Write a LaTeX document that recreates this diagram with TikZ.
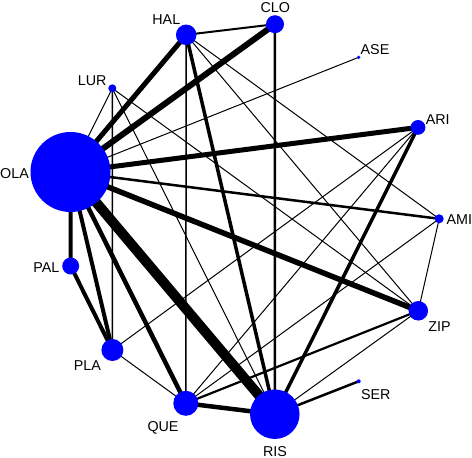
\documentclass[tikz,border=0pt]{standalone}
\usepackage{fontspec}
\setmainfont{Liberation Sans}
\pgfdeclarelayer{bg}
\pgfsetlayers{bg,main}
\definecolor{nodeblue}{RGB}{0,0,255}
\tikzset{
  vtx/.style={circle, fill=nodeblue, draw=none, inner sep=0pt, minimum size=#1},
  lbl/.style={anchor=base, inner sep=0pt, font=\fontsize{14.3}{16}\selectfont},
  ed/.style={line width=#1, draw=black}
}
\begin{document}
\begin{tikzpicture}[x=1pt,y=-1pt]
\useasboundingbox (0,0) rectangle (472,458);
% vertices
\node[vtx=80pt]  (OLA) at (70.5,172) {};
\node[vtx=20.5pt](HAL) at (186.2,34.8) {};
\node[vtx=18pt]  (CLO) at (275,24.2) {};
\node[vtx=3.6pt] (ASE) at (358.7,57.3) {};
\node[vtx=8pt]   (LUR) at (112.3,88.3) {};
\node[vtx=14.8pt](ARI) at (418,127.4) {};
\node[vtx=9pt]   (AMI) at (439.2,218.8) {};
\node[vtx=19.5pt](ZIP) at (418.3,310.8) {};
\node[vtx=4pt]   (SER) at (358.7,381.3) {};
\node[vtx=49.5pt](RIS) at (274.8,414.2) {};
\node[vtx=25pt]  (QUE) at (185.8,403.3) {};
\node[vtx=22pt]  (PLA) at (112.4,350) {};
\node[vtx=17pt]  (PAL) at (70.7,266) {};
% labels
\node[lbl] (tOLA) at (14.5,178.3) {OLA};
\node[lbl] (tHAL) at (166.3,24) {HAL};
\node[lbl] (tLUR) at (92.2,85.7) {LUR};
\node[lbl] (tCLO) at (275.3,12.3) {CLO};
\node[lbl] (tASE) at (375,54.3) {ASE};
\node[lbl] (tARI) at (437.8,124) {ARI};
\node[lbl] (tAMI) at (459.3,224) {AMI};
\node[lbl] (tZIP) at (439.5,331.3) {ZIP};
\node[lbl] (tSER) at (375.8,399.7) {SER};
\node[lbl] (tRIS) at (275,456.3) {RIS};
\node[lbl] (tQUE) at (163,431.3) {QUE};
\node[lbl] (tPLA) at (87.3,370.7) {PLA};
\node[lbl] (tPAL) at (46.3,272.3) {PAL};
% edges
\begin{pgfonlayer}{bg}
\draw[ed=10pt]  (OLA.center) -- (RIS.center);
\draw[ed=6pt]   (OLA.center) -- (CLO.center);
\draw[ed=5pt]   (OLA.center) -- (HAL.center);
\draw[ed=5pt]   (OLA.center) -- (ARI.center);
\draw[ed=5.5pt] (OLA.center) -- (ZIP.center);
\draw[ed=2.5pt] (OLA.center) -- (AMI.center);
\draw[ed=1pt]   (OLA.center) -- (ASE.center);
\draw[ed=1pt]   (OLA.center) -- (LUR.center);
\draw[ed=4pt]   (OLA.center) -- (PAL.center);
\draw[ed=4pt]   (OLA.center) -- (PLA.center);
\draw[ed=4.5pt] (OLA.center) -- (QUE.center);
\draw[ed=2pt]   (HAL.center) -- (CLO.center);
\draw[ed=1.5pt] (HAL.center) -- (QUE.center);
\draw[ed=3.5pt] (HAL.center) -- (RIS.center);
\draw[ed=1pt]   (HAL.center) -- (ZIP.center);
\draw[ed=1pt]   (HAL.center) -- (AMI.center);
\draw[ed=2.5pt] (CLO.center) -- (RIS.center);
\draw[ed=1.5pt] (LUR.center) -- (PLA.center);
\draw[ed=1pt]   (LUR.center) -- (RIS.center);
\draw[ed=1pt]   (LUR.center) -- (ZIP.center);
\draw[ed=3.5pt] (ARI.center) -- (RIS.center);
\draw[ed=1pt]   (ARI.center) -- (PLA.center);
\draw[ed=1pt]   (ARI.center) -- (QUE.center);
\draw[ed=1pt]   (AMI.center) -- (QUE.center);
\draw[ed=1pt]   (AMI.center) -- (ZIP.center);
\draw[ed=2.2pt] (ZIP.center) -- (QUE.center);
\draw[ed=1pt]   (ZIP.center) -- (RIS.center);
\draw[ed=2.5pt] (SER.center) -- (RIS.center);
\draw[ed=4.5pt] (QUE.center) -- (RIS.center);
\draw[ed=1pt]   (QUE.center) -- (PLA.center);
\draw[ed=4pt]   (PAL.center) -- (PLA.center);
\end{pgfonlayer}
\end{tikzpicture}
\end{document}
